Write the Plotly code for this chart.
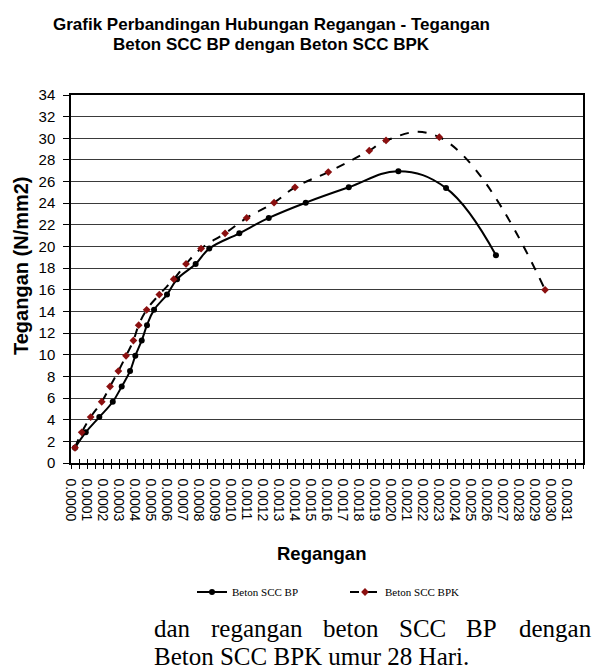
import plotly.graph_objects as go

# Data (strain in units of 1e-4, stress in N/mm2)
bp_strain_e4 = [0.25, 0.92, 1.77, 2.61, 3.17, 3.69, 4.02, 4.42, 4.75, 5.19, 6.00, 6.63,
                7.79, 8.64, 10.52, 12.36, 14.67, 17.36, 20.46, 23.44, 26.56]
bp_stress = [1.41, 2.83, 4.24, 5.66, 7.07, 8.49, 9.90, 11.32, 12.73, 14.15, 15.56, 16.98,
             18.39, 19.81, 21.22, 22.64, 24.05, 25.47, 26.95, 25.40, 19.20]
bpk_strain_e4 = [0.25, 0.67, 1.23, 1.92, 2.44, 2.96, 3.44, 3.90, 4.23, 4.73, 5.52, 6.42,
                 7.19, 8.13, 9.63, 10.98, 12.69, 14.00, 16.08, 18.64, 19.69, 23.02, 29.63]
bpk_stress = [1.41, 2.83, 4.24, 5.66, 7.07, 8.49, 9.90, 11.32, 12.73, 14.15, 15.56, 16.98,
              18.39, 19.81, 21.22, 22.64, 24.05, 25.47, 26.88, 28.86, 29.80, 30.10, 16.00]
x_tick_vals_e4 = list(range(0, 32))
x_tick_text = ["%.4f" % (v * 1e-4) for v in x_tick_vals_e4]

bp_x = [v * 1e-4 for v in bp_strain_e4]
bpk_x = [v * 1e-4 for v in bpk_strain_e4]
tick_vals = [v * 1e-4 for v in x_tick_vals_e4]

FONT = "Liberation Sans, Arial, sans-serif"
SERIF = "Liberation Serif, Times New Roman, serif"

# page has an 8px body margin: figure is 593x661 placed at (8,8)
W, H = 593, 661
PL, PT, PB, PR = 63, 87, 206, 18
plot_h = H - PT - PB

def py(screen_y):
    """screen y (px) -> paper y relative to plot area"""
    fig_y = screen_y - 8
    return (H - PB - fig_y) / plot_h

def px(screen_x):
    fig_x = screen_x - 8
    return (fig_x - PL) / (W - PL - PR)

fig = go.Figure()
fig.add_trace(go.Scatter(
    x=bp_x, y=bp_stress, name="Beton SCC BP", mode="lines+markers",
    line=dict(color="black", width=2, shape="spline", smoothing=1.15),
    marker=dict(symbol="circle", size=6, color="black"),
))
fig.add_trace(go.Scatter(
    x=bpk_x, y=bpk_stress, name="Beton SCC BPK", mode="lines+markers",
    line=dict(color="black", width=2, dash="dash", shape="spline", smoothing=1.3),
    marker=dict(symbol="diamond", size=6, color="#8B1010"),
))
# overlay axis for inside half of crossing ticks
fig.add_trace(go.Scatter(x=[0], y=[0], xaxis="x2", mode="markers",
                         marker=dict(opacity=0), showlegend=False, hoverinfo="skip"))

fig.update_layout(
    width=W, height=H,
    margin=dict(l=PL, r=PR, t=PT, b=PB),
    paper_bgcolor="white", plot_bgcolor="white",
    font=dict(family=FONT, color="black"),
    xaxis=dict(
        range=[0, 0.0032], tickvals=tick_vals, ticktext=x_tick_text, tickangle=90,
        tickfont=dict(family=FONT, size=14), ticks="outside", ticklen=4, tickcolor="black",
        ticklabelstandoff=7,
        minor=dict(dtick=0.00005, tick0=0, ticks="outside", ticklen=4, tickcolor="black"),
        showline=True, linecolor="black", linewidth=1.5, mirror=True,
        showgrid=False, zeroline=False,
    ),
    xaxis2=dict(
        overlaying="x", range=[0, 0.0032], side="bottom", showticklabels=False,
        ticks="inside", ticklen=4, tickcolor="black", tickvals=tick_vals,
        minor=dict(dtick=0.00005, tick0=0, ticks="inside", ticklen=4, tickcolor="black"),
        showgrid=False, zeroline=False, showline=False,
    ),
    yaxis=dict(
        range=[0, 34], dtick=2, tickfont=dict(family=FONT, size=15),
        ticks="outside", ticklen=6, tickcolor="black", ticklabelstandoff=5,
        showline=True, linecolor="black", linewidth=1.5, mirror=True,
        showgrid=True, gridcolor="#3a3a3a", gridwidth=1, zeroline=False,
    ),
    legend=dict(
        orientation="h", xref="container", yref="container",
        x=184 / W, xanchor="left", y=1 - (592 - 8) / H, yanchor="middle",
        font=dict(family=SERIF, size=11, color="black"),
        bgcolor="rgba(0,0,0,0)", itemwidth=30, tracegroupgap=0,
        entrywidth=108, entrywidthmode="pixels",
    ),
    showlegend=True,
)

# Axis titles
fig.add_annotation(text="<b>Tegangan (N/mm2)</b>", xref="paper", yref="paper",
                   showarrow=False, textangle=-90,
                   x=px(21), xanchor="center", y=py(266), yanchor="middle",
                   font=dict(family=FONT, size=20, color="black"))
fig.add_annotation(text="<b>Regangan</b>", xref="paper", yref="paper",
                   showarrow=False, x=px(321), xanchor="center",
                   y=py(553), yanchor="middle",
                   font=dict(family=FONT, size=18.5, color="black"))

# Chart title (two lines, tight spacing)
fig.add_annotation(text="<b>Grafik Perbandingan Hubungan Regangan - Tegangan</b>",
                   xref="paper", yref="paper", showarrow=False,
                   x=px(271), xanchor="center", y=py(25), yanchor="middle",
                   font=dict(family=FONT, size=17, color="black"))
fig.add_annotation(text="<b>Beton SCC BP dengan Beton SCC BPK</b>",
                   xref="paper", yref="paper", showarrow=False,
                   x=px(271), xanchor="center", y=py(44), yanchor="middle",
                   font=dict(family=FONT, size=17, color="black"))

# Document caption below the chart (justified first line)
line1_words = ["dan", "regangan", "beton", "SCC", "BP", "dengan"]
line1_left = [152, 209, 321, 397, 464, 517]
for w, xl in zip(line1_words, line1_left):
    fig.add_annotation(text=w, xref="paper", yref="paper", showarrow=False,
                       x=px(xl), xanchor="left", y=py(628), yanchor="middle",
                       font=dict(family=SERIF, size=25, color="black"))
fig.add_annotation(text="Beton SCC BPK umur 28 Hari.", xref="paper", yref="paper",
                   showarrow=False, x=px(152), xanchor="left",
                   y=py(656), yanchor="middle",
                   font=dict(family=SERIF, size=25, color="black"))

fig.write_html("out.html")
